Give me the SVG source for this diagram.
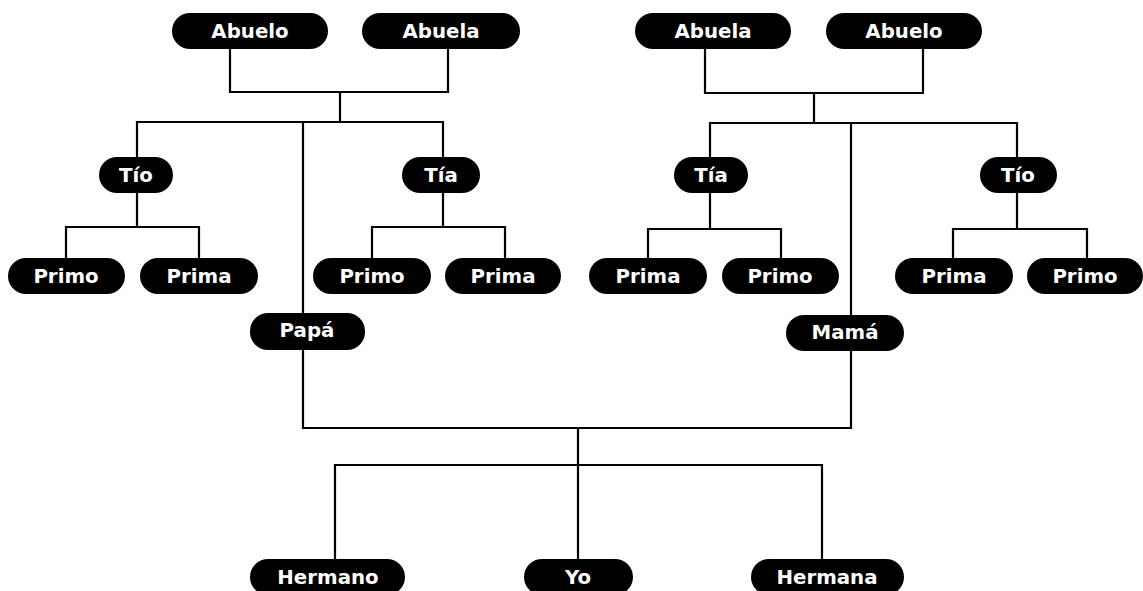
<svg xmlns="http://www.w3.org/2000/svg" width="1143" height="591" viewBox="0 0 1143 591">
<style>
.p{fill:#000}
.t{fill:#fff;font-family:"DejaVu Sans",sans-serif;font-weight:bold;font-size:19.8px;text-anchor:middle}
.c{fill:none;stroke:#000;stroke-width:2.2}
</style>
<rect width="1143" height="591" fill="#fff"/>
<g id="connectors" class="c">
<path d="M230 49V92H448V49M340 92V122M137 157V122H443V157M303 122V313"/>
<path d="M705 49V93H923V49M814 93V123M710 157V123H1017V157M851 123V315"/>
<path d="M137 193V227M66 258V227H199V258M443 193V227M372 258V227H505V258"/>
<path d="M710 193V229M648 258V229H781V258M1017 193V229M953 258V229H1087V258"/>
<path d="M303 350V428H851V351M578 428V559M335 559V465H822V559"/>
</g>
<g id="abuelo1"><rect class="p" x="172" y="13" width="156" height="36" rx="18"/><text class="t" x="250" y="38">Abuelo</text></g>
<g id="abuela1"><rect class="p" x="362" y="13" width="158" height="36" rx="18"/><text class="t" x="441" y="38">Abuela</text></g>
<g id="abuela2"><rect class="p" x="635" y="13" width="156" height="36" rx="18"/><text class="t" x="713" y="38">Abuela</text></g>
<g id="abuelo2"><rect class="p" x="826" y="13" width="156" height="36" rx="18"/><text class="t" x="904" y="38">Abuelo</text></g>
<g id="tio1"><rect class="p" x="99" y="157" width="74" height="36" rx="18"/><text class="t" x="136" y="182">Tío</text></g>
<g id="tia1"><rect class="p" x="402" y="157" width="78" height="36" rx="18"/><text class="t" x="441" y="182">Tía</text></g>
<g id="tia2"><rect class="p" x="674" y="157" width="74" height="36" rx="18"/><text class="t" x="711" y="182">Tía</text></g>
<g id="tio2"><rect class="p" x="980" y="157" width="77" height="36" rx="18"/><text class="t" x="1018" y="182">Tío</text></g>
<g id="primo1"><rect class="p" x="8" y="258" width="117" height="36" rx="18"/><text class="t" x="66" y="283">Primo</text></g>
<g id="prima1"><rect class="p" x="140" y="258" width="118" height="36" rx="18"/><text class="t" x="199" y="283">Prima</text></g>
<g id="primo2"><rect class="p" x="313" y="258" width="118" height="36" rx="18"/><text class="t" x="372" y="283">Primo</text></g>
<g id="prima2"><rect class="p" x="445" y="258" width="116" height="36" rx="18"/><text class="t" x="503" y="283">Prima</text></g>
<g id="prima3"><rect class="p" x="589" y="258" width="118" height="36" rx="18"/><text class="t" x="648" y="283">Prima</text></g>
<g id="primo3"><rect class="p" x="722" y="258" width="117" height="36" rx="18"/><text class="t" x="780" y="283">Primo</text></g>
<g id="prima4"><rect class="p" x="895" y="258" width="118" height="36" rx="18"/><text class="t" x="954" y="283">Prima</text></g>
<g id="primo4"><rect class="p" x="1027" y="258" width="116" height="36" rx="18"/><text class="t" x="1085" y="283">Primo</text></g>
<g id="papa"><rect class="p" x="250" y="313" width="115" height="37" rx="18"/><text class="t" x="307" y="337">Papá</text></g>
<g id="mama"><rect class="p" x="786" y="315" width="118" height="36" rx="18"/><text class="t" x="845" y="339">Mamá</text></g>
<g id="hermano"><rect class="p" x="250" y="559" width="155" height="36" rx="18"/><text class="t" x="328" y="584">Hermano</text></g>
<g id="yo"><rect class="p" x="524" y="559" width="109" height="36" rx="18"/><text class="t" x="578" y="584">Yo</text></g>
<g id="hermana"><rect class="p" x="751" y="559" width="153" height="36" rx="18"/><text class="t" x="827" y="584">Hermana</text></g>
</svg>
